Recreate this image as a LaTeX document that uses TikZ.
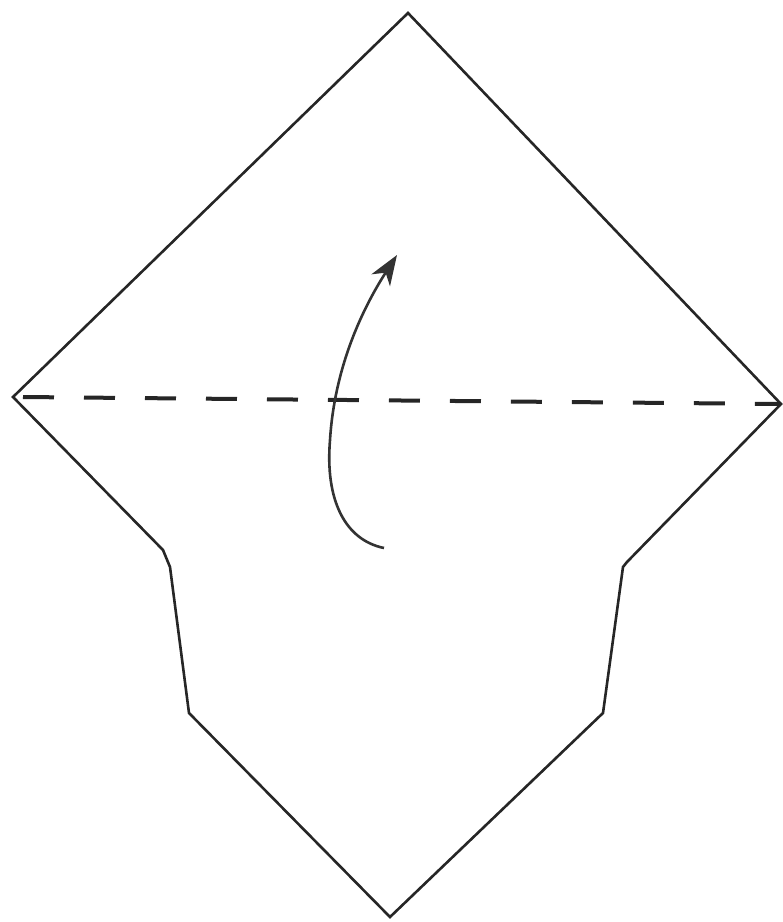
\documentclass[tikz,border=0pt]{standalone}
\usetikzlibrary{arrows.meta}
\begin{document}
\begin{tikzpicture}[x=1pt,y=-1pt,
  outline/.style={line width=2.6pt,line join=miter,color=black!85},
  foldline/.style={line width=4pt,dash pattern=on 31pt off 30pt,color=black!85},
  foldarrow/.style={line width=2.6pt,color=black!80,-{Stealth[length=30pt,width=22pt,inset=9pt]}}]
\useasboundingbox (0,0) rectangle (783,922);
\coordinate (T) at (408,13);
\coordinate (L) at (13,397);
\coordinate (R) at (781,404);
\coordinate (B) at (390,917);
\coordinate (LN1) at (163,550);
\coordinate (LN2) at (170,567);
\coordinate (LN3) at (189,713);
\coordinate (RN1) at (627,562);
\coordinate (RN2) at (623,567);
\coordinate (RN3) at (603,713);
\draw[outline] (T) -- (R) -- (RN1) -- (RN2) -- (RN3) -- (B) -- (LN3) -- (LN2) -- (LN1) -- (L) -- cycle;
\draw[foldline] ([xshift=10pt]L) -- (R);
\coordinate (A0) at (384,548);
\coordinate (A1) at (330,440);
\coordinate (A2) at (397,255);
\draw[foldarrow] (A0) .. controls (345,540) and (325,500) .. (A1) .. controls (335,360) and (368,300) .. (A2);
\end{tikzpicture}
\end{document}
